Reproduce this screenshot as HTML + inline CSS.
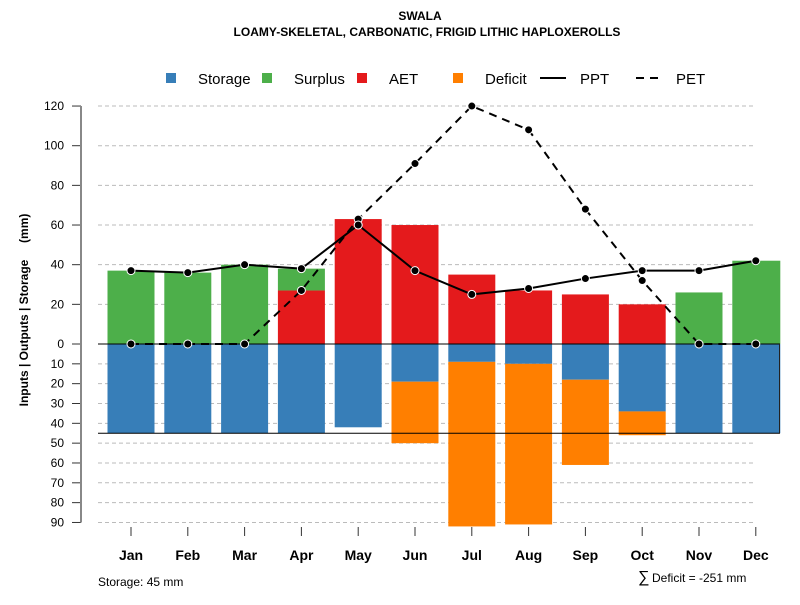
<!DOCTYPE html>
<html><head><meta charset="utf-8"><style>
body{margin:0;background:#fff}
svg text{font-family:"Liberation Sans",sans-serif}
</style></head><body>
<svg id="c" width="800" height="600" xmlns="http://www.w3.org/2000/svg">
<text x="420" y="20" text-anchor="middle" font-size="12" font-weight="bold">SWALA</text>
<text x="427" y="36" text-anchor="middle" font-size="12" font-weight="bold">LOAMY-SKELETAL, CARBONATIC, FRIGID LITHIC HAPLOXEROLLS</text>
<g font-size="15">
<rect x="166" y="73" width="10" height="10" fill="#377EB8"/>
<text x="198" y="84">Storage</text>
<rect x="262" y="73" width="10" height="10" fill="#4DAF4A"/>
<text x="294" y="84">Surplus</text>
<rect x="357" y="73" width="10" height="10" fill="#E41A1C"/>
<text x="389" y="84">AET</text>
<rect x="453" y="73" width="10" height="10" fill="#FF7F00"/>
<text x="485" y="84">Deficit</text>
<line x1="540" y1="78" x2="566" y2="78" stroke="#000" stroke-width="2"/>
<text x="580" y="84">PPT</text>
<line x1="636" y1="78" x2="662" y2="78" stroke="#000" stroke-width="2" stroke-dasharray="8,6"/>
<text x="676" y="84">PET</text>
</g>
<text transform="translate(28,310) rotate(-90)" text-anchor="middle" font-size="12" font-weight="bold" style="white-space:pre">Inputs | Outputs | Storage     (mm)</text>
<text x="98" y="586" font-size="12">Storage: 45 mm</text>
<text x="638" y="582" font-size="16">∑</text>
<text x="652" y="582" font-size="12">Deficit = -251 mm</text>
<g id="grid"></g><g id="bars"></g><g id="axes"></g><g id="lines"></g>
</svg>
<script>
const months=["Jan","Feb","Mar","Apr","May","Jun","Jul","Aug","Sep","Oct","Nov","Dec"];
const surplus=[37,36,40,11,0,0,0,0,0,0,26,42];
const aet=[0,0,0,27,63,60,35,27,25,20,0,0];
const storage=[45,45,45,45,42,19,9,10,18,34,45,45];
const deficit=[0,0,0,0,0,31,83,81,43,12,0,0];
const ppt=[37,36,40,38,60,37,25,28,33,37,37,42];
const pet=[0,0,0,27,63,91,120,108,68,32,0,0];
const posTicks=[0,20,40,60,80,100,120];
const negTicks=[10,20,30,40,50,60,70,80,90];
const storageCap=45;
const NS="http://www.w3.org/2000/svg";
const X=i=>131+i*56.8;
const Y=v=>344-v*1.983;
function mk(t,a,p){const e=document.createElementNS(NS,t);for(const k in a)e.setAttribute(k,a[k]);document.getElementById(p).appendChild(e);return e;}
posTicks.concat(negTicks.map(v=>-v)).forEach(v=>{
 const y=Y(v);
 const g=mk('line',{x1:98,x2:755,y1:y,y2:y,stroke:'#bbb','stroke-dasharray':'4,3'},'grid');
 
 
 const t=mk('line',{x1:72,x2:81,y1:y,y2:y,stroke:'#333'},'axes');
 
 
 const l=mk('text',{x:64,y:y+4,'text-anchor':'end','font-size':12},'axes');
 l.textContent=Math.abs(v);
 
 
});
const ax=mk('line',{x1:81,x2:81,y1:Y(120),y2:Y(-90),stroke:'#888','stroke-width':2},'axes');


const bw=47;
months.forEach((m,i)=>{
 const x0=X(i)-bw/2, w=(i==11)?48:bw;
 function bar(v0,v1,c,n){if(v1===v0)return;const r=mk('rect',{x:x0,y:Math.min(Y(v0),Y(v1)),width:w,height:Math.abs(Y(v1)-Y(v0)),fill:c},'bars');
  
  }
 bar(0,aet[i],'#E41A1C','bar-aet-'+m.toLowerCase());
 bar(aet[i],aet[i]+surplus[i],'#4DAF4A','bar-surplus-'+m.toLowerCase());
 bar(0,-storage[i],'#377EB8','bar-storage-'+m.toLowerCase());
 bar(-storage[i],-storage[i]-deficit[i],'#FF7F00','bar-deficit-'+m.toLowerCase());
 const t=mk('line',{x1:X(i),x2:X(i),y1:527,y2:536,stroke:'#333'},'axes');
 
 
 const l=mk('text',{x:X(i),y:560,'text-anchor':'middle','font-size':14,'font-weight':'bold'},'axes');
 l.textContent=m;
 
 
});
const z=mk('line',{x1:98,x2:780,y1:Y(0),y2:Y(0),stroke:'#000'},'lines');


const sc=mk('line',{x1:98,x2:780,y1:Y(-storageCap),y2:Y(-storageCap),stroke:'#000'},'lines');


const ed=mk('line',{x1:779.5,x2:779.5,y1:Y(0),y2:Y(-storageCap),stroke:'#222'},'lines');


function series(d,dash,n){
 const p=mk('polyline',{points:d.map((v,i)=>X(i)+','+Y(v)).join(' '),fill:'none',stroke:'#000','stroke-width':2,'stroke-dasharray':dash},'lines');
 
 
 d.forEach((v,i)=>{const c=mk('circle',{cx:X(i),cy:Y(v),r:4,fill:'#000',stroke:'#fff','stroke-width':1},'lines');
  
  });
}
series(pet,'8,6','pet');
series(ppt,'none','ppt');
</script>
</body></html>
